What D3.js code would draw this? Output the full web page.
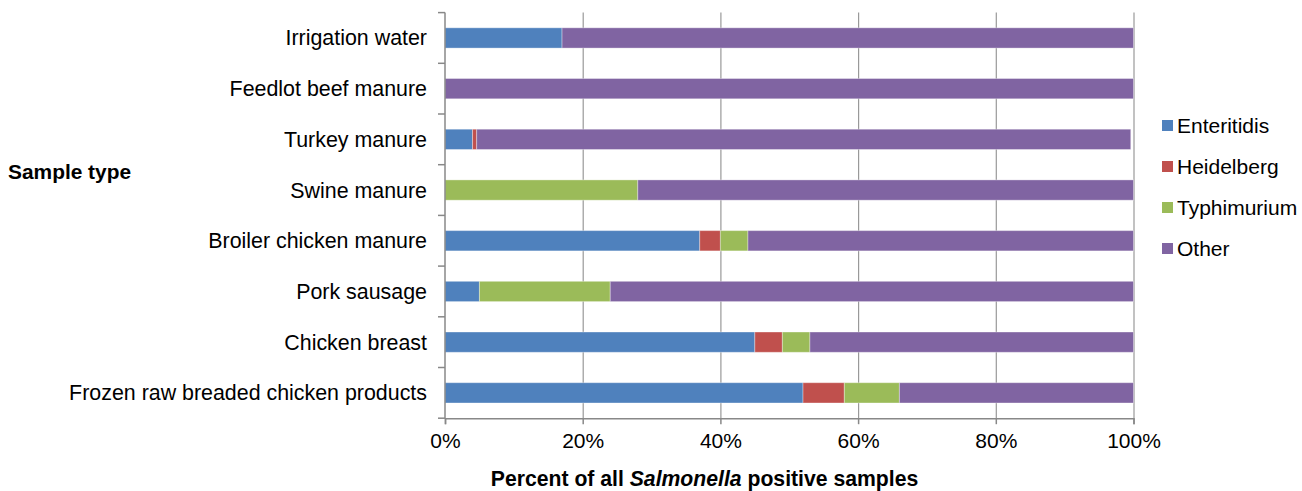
<!DOCTYPE html>
<html>
<head>
<meta charset="utf-8">
<script src="https://cdn.jsdelivr.net/npm/d3@7"></script>
<style>
  body { margin: 0; background: #fff; }
  text { font-family: "Liberation Sans", Arial, sans-serif; fill: #000; }
</style>
</head>
<body>
<div id="chart"></div>
<script>
// data, top row first
const sampleTypes = ["Irrigation water", "Feedlot beef manure", "Turkey manure", "Swine manure",
    "Broiler chicken manure", "Pork sausage", "Chicken breast", "Frozen raw breaded chicken products"];
const serovars = ["Enteritidis", "Heidelberg", "Typhimurium", "Other"];
const enteritidis = [17, 0, 4, 0, 37, 5, 45, 52];
const heidelberg  = [0, 0, 0.6, 0, 3, 0, 4, 6];
const typhimurium = [0, 0, 0, 28, 4, 19, 4, 8];
const other       = [83, 100, 95, 72, 56, 76, 47, 34];
const xTicks = [0, 20, 40, 60, 80, 100];
const colors = ["#4F81BD", "#C0504D", "#9BBB59", "#8064A2"];

const W = 1302, H = 491;
const margin = {top: 12.6, right: 168.5, bottom: 72.8, left: 445};
const width = W - margin.left - margin.right,
    height = H - margin.top - margin.bottom;

const svg = d3.select("#chart").append("svg")
    .attr("width", W).attr("height", H);
const g = svg.append("g")
    .attr("transform", `translate(${margin.left},${margin.top})`);

const x = d3.scaleLinear().domain([0, 100]).range([0, width]);
const y = d3.scaleBand().domain(sampleTypes).range([0, height])
    .paddingInner(0.6).paddingOuter(0.3);

// stack the series
const table = sampleTypes.map((s, i) => ({
    type: s, Enteritidis: enteritidis[i], Heidelberg: heidelberg[i],
    Typhimurium: typhimurium[i], Other: other[i]
}));
const stacked = d3.stack().keys(serovars)(table);

// vertical gridlines
g.append("g")
    .attr("class", "grid")
    .call(d3.axisBottom(x).tickValues(xTicks.slice(1)).tickSize(height).tickFormat(""))
    .call(s => s.select(".domain").remove())
    .selectAll("line").attr("stroke", "#999").attr("stroke-width", 1.2);

// bars
g.selectAll("g.series")
    .data(stacked)
    .enter().append("g")
    .attr("class", "series")
    .attr("fill", (d, i) => colors[i])
    .selectAll("rect")
    .data(d => d)
    .enter().append("rect")
    .attr("x", d => x(d[0]))
    .attr("y", d => y(d.data.type))
    .attr("width", d => x(d[1]) - x(d[0]))
    .attr("height", y.bandwidth())
    .attr("stroke", "#fff").attr("stroke-opacity", 0.35).attr("stroke-width", 1);

// x axis
const xAxis = g.append("g")
    .attr("transform", `translate(0,${height})`)
    .call(d3.axisBottom(x).tickValues(xTicks).tickSize(6).tickPadding(9).tickFormat(d => d + "%"));
xAxis.select(".domain").attr("stroke", "#888").attr("stroke-width", 1.5);
xAxis.selectAll("line").attr("stroke", "#888").attr("stroke-width", 1.5);
xAxis.selectAll("text").style("font-size", "21px");

// y axis: ticks at category boundaries
const step = y.step();
const bounds = sampleTypes.map(s => y(s) + y.bandwidth() / 2 - step / 2)
    .concat([y(sampleTypes[sampleTypes.length - 1]) + y.bandwidth() / 2 + step / 2]);
const yAxis = g.append("g");
yAxis.append("line")
    .attr("x1", 0).attr("x2", 0).attr("y1", 0).attr("y2", height)
    .attr("stroke", "#888").attr("stroke-width", 1.5);
yAxis.selectAll("line.tick")
    .data(bounds)
    .enter().append("line")
    .attr("class", "tick")
    .attr("x1", -7).attr("x2", 0)
    .attr("y1", d => d).attr("y2", d => d)
    .attr("stroke", "#888").attr("stroke-width", 1.5);
yAxis.selectAll("text")
    .data(sampleTypes)
    .enter().append("text")
    .attr("x", -18)
    .attr("y", d => y(d) + y.bandwidth() / 2)
    .attr("dy", "0.35em")
    .attr("text-anchor", "end")
    .style("font-size", "21.4px")
    .text(d => d);

// axis titles
svg.append("text")
    .attr("x", 8).attr("y", 179)
    .style("font-size", "20.9px").style("font-weight", "bold")
    .text("Sample type");
const xTitle = svg.append("text")
    .attr("x", 704.5).attr("y", 486)
    .attr("text-anchor", "middle")
    .style("font-size", "21.2px").style("font-weight", "bold");
xTitle.append("tspan").text("Percent of all ");
xTitle.append("tspan").style("font-style", "italic").text("Salmonella");
xTitle.append("tspan").text(" positive samples");

// legend
const legend = svg.append("g")
    .attr("transform", "translate(1162,125.5)");
const item = legend.selectAll("g")
    .data(serovars)
    .enter().append("g")
    .attr("transform", (d, i) => `translate(0,${i * 41})`);
item.append("rect")
    .attr("x", 0).attr("y", -5.5)
    .attr("width", 11).attr("height", 11)
    .attr("fill", (d, i) => colors[i]);
item.append("text")
    .attr("x", 15).attr("y", 0).attr("dy", "0.35em")
    .style("font-size", "21px")
    .text(d => d);
</script>
</body>
</html>
